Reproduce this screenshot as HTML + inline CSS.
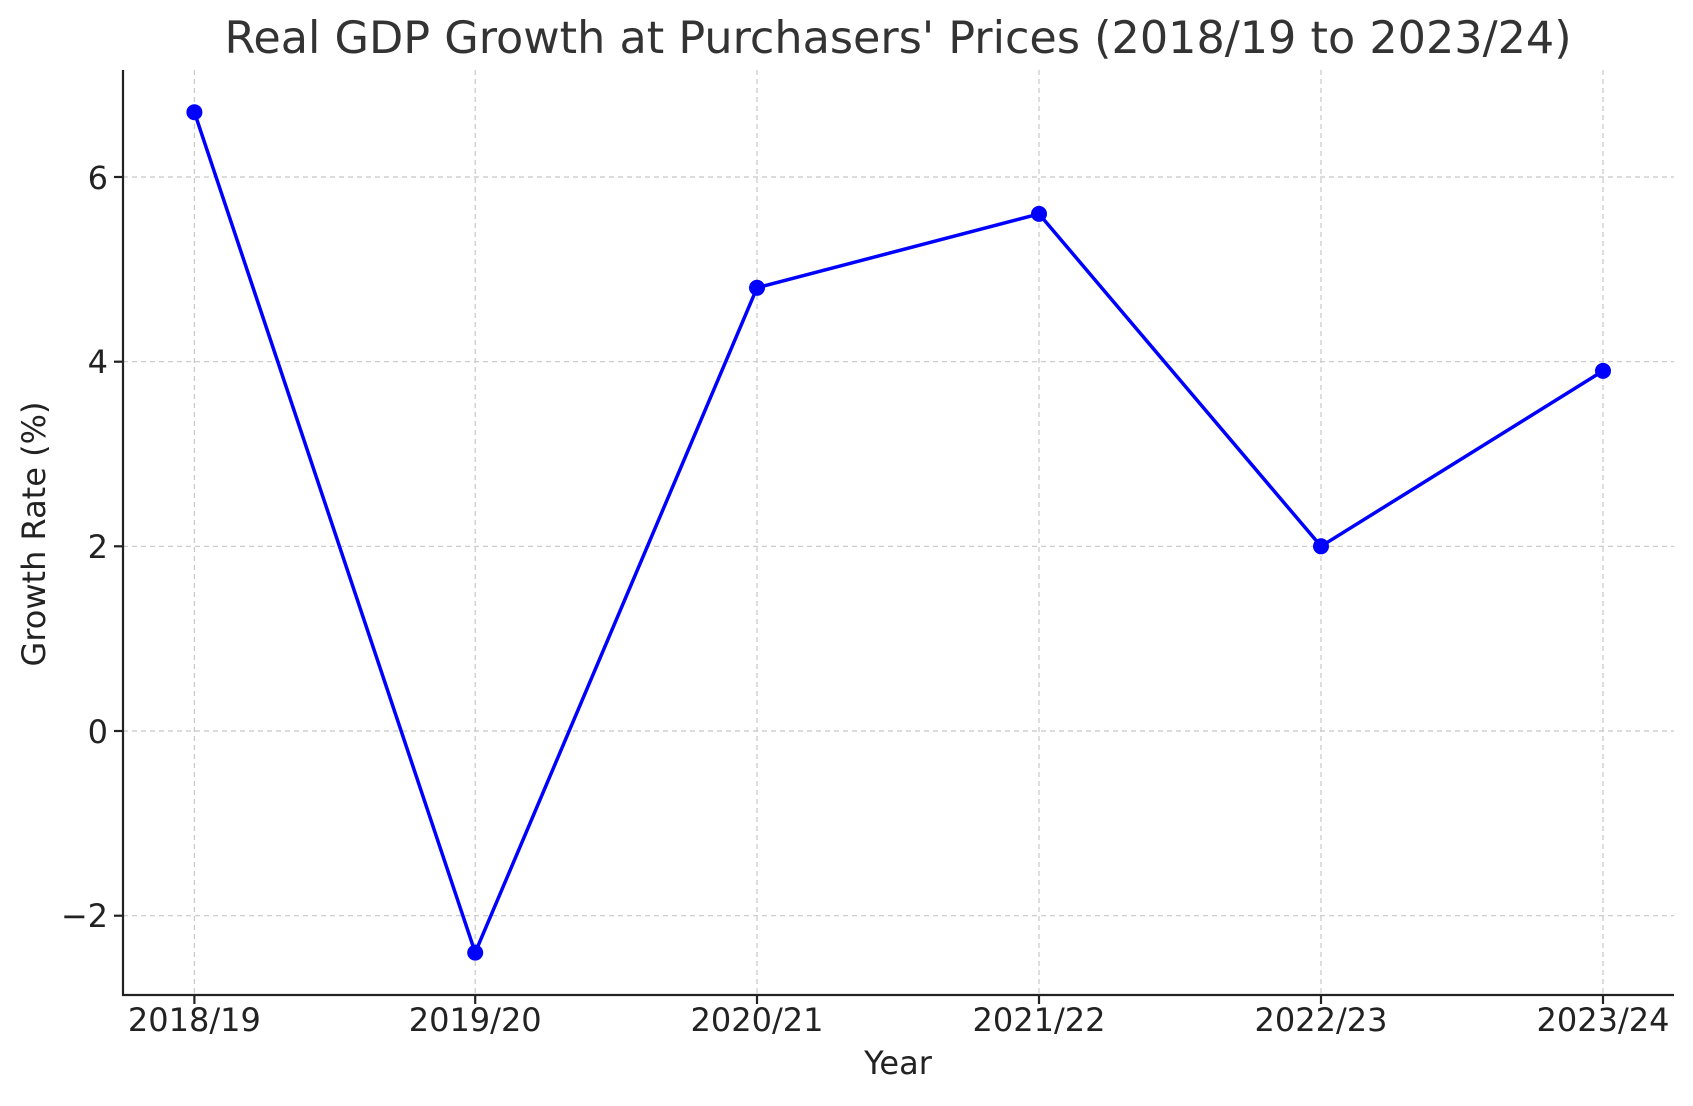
<!DOCTYPE html>
<html><head><meta charset="utf-8"><style>body{margin:0;background:#fff}</style></head><body>
<svg width="1693" height="1101" xmlns="http://www.w3.org/2000/svg" font-family="DejaVu Sans, Liberation Sans, sans-serif">
<rect width="1693" height="1101" fill="#fff"/>
<g stroke="#c8c8c8" stroke-width="1.2" stroke-dasharray="5,4">
<line x1="194.4" y1="70" x2="194.4" y2="995"/>
<line x1="475.2" y1="70" x2="475.2" y2="995"/>
<line x1="757" y1="70" x2="757" y2="995"/>
<line x1="1039" y1="70" x2="1039" y2="995"/>
<line x1="1321" y1="70" x2="1321" y2="995"/>
<line x1="1603" y1="70" x2="1603" y2="995"/>
<line x1="123" y1="177" x2="1674" y2="177"/>
<line x1="123" y1="361.7" x2="1674" y2="361.7"/>
<line x1="123" y1="546.3" x2="1674" y2="546.3"/>
<line x1="123" y1="731" x2="1674" y2="731"/>
<line x1="123" y1="915.7" x2="1674" y2="915.7"/>
</g>
<g stroke="#222" stroke-width="2.2">
<line x1="123" y1="70" x2="123" y2="996"/>
<line x1="122" y1="995" x2="1674" y2="995"/>
<line x1="194.4" y1="995" x2="194.4" y2="1004"/><line x1="475.2" y1="995" x2="475.2" y2="1004"/>
<line x1="757" y1="995" x2="757" y2="1004"/><line x1="1039" y1="995" x2="1039" y2="1004"/>
<line x1="1321" y1="995" x2="1321" y2="1004"/><line x1="1603" y1="995" x2="1603" y2="1004"/>
<line x1="114" y1="177" x2="123" y2="177"/><line x1="114" y1="361.7" x2="123" y2="361.7"/>
<line x1="114" y1="546.3" x2="123" y2="546.3"/><line x1="114" y1="731" x2="123" y2="731"/>
<line x1="114" y1="915.7" x2="123" y2="915.7"/>
</g>
<polyline fill="none" stroke="#0000ff" stroke-width="3.5" stroke-linejoin="round" points="194.4,112.2 475.2,952.6 757,287.8 1039,213.9 1321,546.3 1603,370.9"/>
<g fill="#0000ff">
<circle cx="194.4" cy="112.2" r="8"/><circle cx="475.2" cy="952.6" r="8"/><circle cx="757" cy="287.8" r="8"/>
<circle cx="1039" cy="213.9" r="8"/><circle cx="1321" cy="546.3" r="8"/><circle cx="1603" cy="370.9" r="8"/>
</g>
<g font-size="32" fill="#222" text-anchor="end">
<text x="108" y="189">6</text><text x="108" y="373">4</text><text x="108" y="558">2</text>
<text x="108" y="743">0</text><text x="108" y="927">−2</text>
</g>
<g font-size="32" fill="#222" text-anchor="middle">
<text x="194.4" y="1031">2018/19</text><text x="475.2" y="1031">2019/20</text><text x="757" y="1031">2020/21</text>
<text x="1039" y="1031">2021/22</text><text x="1321" y="1031">2022/23</text><text x="1603" y="1031">2023/24</text>
<text x="898" y="1074">Year</text>
<text transform="translate(45,534) rotate(-90)">Growth Rate (%)</text>
<text x="898" y="53" font-size="44.5" fill="#333">Real GDP Growth at Purchasers' Prices (2018/19 to 2023/24)</text>
</g>
</svg>
</body></html>
